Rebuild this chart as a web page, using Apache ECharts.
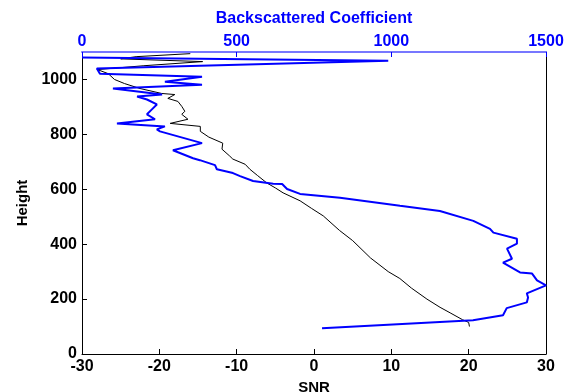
<!DOCTYPE html>
<html>
<head>
<meta charset="utf-8">
<script src="https://cdn.jsdelivr.net/npm/echarts@6/dist/echarts.min.js"></script>
<style>
  html, body { margin: 0; padding: 0; background: #fff; }
  #chart { width: 574px; height: 392px; }
</style>
</head>
<body>
<div id="chart"></div>
<script>
// SNR profile (black), bottom axis
const snrHeight = [100, 115, 125, 150, 170, 200, 240, 275, 300, 350, 413, 450, 503, 530, 558, 587, 605, 623, 650, 673, 691, 710, 721, 746, 768, 790, 811, 829, 840, 855, 873, 884, 902, 920, 931, 945, 949, 967, 985, 1000, 1021, 1036, 1050, 1065, 1075, 1083, 1094];
const snrValue = [20.1, 20.0, 19.2, 17.6, 16.3, 14.6, 12.6, 11.1, 9.6, 7.3, 5.0, 3.3, 1.2, -0.3, -1.8, -4.0, -5.0, -6.1, -7.3, -8.3, -8.9, -10.5, -10.9, -11.9, -11.8, -13.6, -14.7, -14.7, -18.6, -16.3, -17.1, -16.7, -17.1, -17.6, -18.9, -18.0, -19.7, -22.5, -24.5, -25.8, -26.6, -28.0, -22.0, -14.4, -25.0, -23.0, -16.0];

// backscattered coefficient profile (blue), top axis
const bcHeight = [94, 117, 123, 141, 167, 188, 206, 221, 250, 268, 293, 297, 333, 347, 384, 402, 420, 442, 456, 485, 521, 540, 569, 583, 601, 619, 620, 630, 648, 659, 673, 688, 706, 713, 742, 768, 811, 818, 829, 840, 855, 873, 891, 909, 927, 938, 945, 967, 981, 992, 1010, 1021, 1040, 1068, 1080];
const bcValue = [776, 1157, 1264, 1361, 1373, 1438, 1442, 1438, 1500, 1471, 1455, 1416, 1361, 1390, 1374, 1406, 1406, 1330, 1319, 1265, 1157, 1028, 834, 705, 663, 647, 618, 553, 511, 488, 436, 430, 381, 359, 294, 388, 252, 242, 268, 113, 236, 210, 226, 242, 210, 178, 259, 100, 388, 268, 388, 58, 48, 990, 0];

const snrTicks = [-30, 30, 10];
const bcTicks = [0, 1500, 500];
const heightTicks = [0, 1100, 200];

const chart = echarts.init(document.getElementById('chart'));
const font = 'Liberation Sans, Arial, sans-serif';
const plain = v => String(v);

const option = {
  animation: false,
  grid: { left: 82, right: 28, top: 52, bottom: 38, containLabel: false, outerBoundsMode: 'none' },
  xAxis: [
    {
      type: 'value', position: 'bottom',
      min: snrTicks[0], max: snrTicks[1], interval: snrTicks[2],
      name: 'SNR', nameLocation: 'middle', nameGap: 20,
      nameTextStyle: { color: '#000', fontFamily: font, fontWeight: 'bold', fontSize: 15 },
      axisLine: { onZero: false, lineStyle: { color: '#000', width: 1 } },
      axisTick: { inside: true, length: 5, lineStyle: { color: '#000' } },
      axisLabel: { color: '#000', fontFamily: font, fontWeight: 'bold', fontSize: 16, margin: 5, formatter: plain },
      splitLine: { show: false }
    },
    {
      type: 'value', position: 'top',
      min: bcTicks[0], max: bcTicks[1], interval: bcTicks[2],
      name: 'Backscattered Coefficient', nameLocation: 'middle', nameGap: 25,
      nameTextStyle: { color: '#0000ff', fontFamily: font, fontWeight: 'bold', fontSize: 16 },
      axisLine: { onZero: false, lineStyle: { color: '#7777ff', width: 2 } },
      axisTick: { inside: true, length: 5, lineStyle: { color: '#0000ff' } },
      axisLabel: { color: '#0000ff', fontFamily: font, fontWeight: 'bold', fontSize: 16, margin: 2, formatter: plain },
      splitLine: { show: false }
    }
  ],
  yAxis: [
    {
      type: 'value', position: 'left',
      min: heightTicks[0], max: heightTicks[1], interval: heightTicks[2],
      name: 'Height', nameLocation: 'middle', nameGap: 46,
      nameTextStyle: { color: '#000', fontFamily: font, fontWeight: 'bold', fontSize: 15 },
      axisLine: { show: true, onZero: false, lineStyle: { color: '#000', width: 1 } },
      axisTick: { inside: true, length: 5, lineStyle: { color: '#000' } },
      axisLabel: { color: '#000', fontFamily: font, fontWeight: 'bold', fontSize: 16, margin: 5,
        showMaxLabel: false, formatter: plain },
      splitLine: { show: false }
    },
    {
      type: 'value', position: 'right',
      min: heightTicks[0], max: heightTicks[1],
      axisLine: { show: true, onZero: false, lineStyle: { color: '#000', width: 1 } },
      axisTick: { show: false },
      axisLabel: { show: false },
      splitLine: { show: false }
    }
  ],
  series: [
    {
      type: 'line', xAxisIndex: 0, yAxisIndex: 0,
      data: snrHeight.map((h, i) => [snrValue[i], h]),
      showSymbol: false,
      lineStyle: { color: '#000', width: 1 },
      z: 2
    },
    {
      type: 'line', xAxisIndex: 1, yAxisIndex: 0,
      data: bcHeight.map((h, i) => [bcValue[i], h]),
      showSymbol: false,
      lineStyle: { color: '#0000ff', width: 2 },
      z: 3
    }
  ]
};

chart.setOption(option);
</script>
</body>
</html>
